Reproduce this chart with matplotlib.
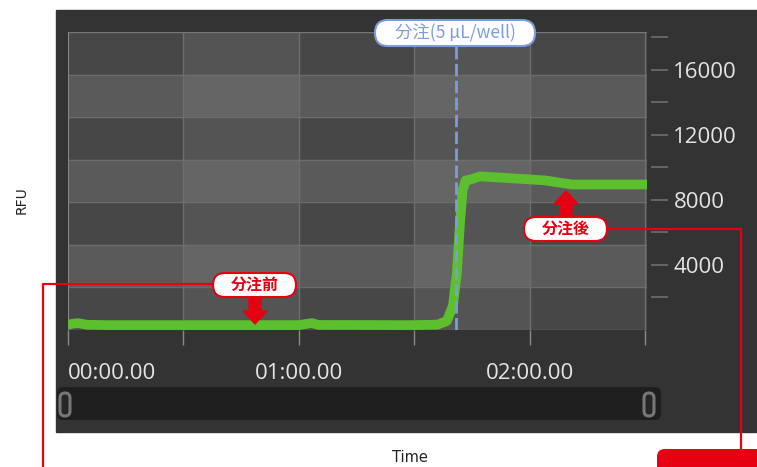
import numpy as np
import matplotlib.pyplot as plt
from matplotlib.patches import Rectangle, FancyBboxPatch, Polygon
from matplotlib.ticker import FuncFormatter

# RFU trace (time in seconds)
time_s = [0, 1, 2.6, 5, 10, 30, 60, 62, 63.4, 65, 90, 96, 98.4,
          100, 101, 101.8, 102.5, 103.3, 104.5, 107, 112, 117.4,
          124, 128, 131, 140, 151]
rfu = [300, 380, 420, 320, 300, 300, 300, 380, 420, 310, 300, 330, 550,
       1500, 3500, 6500, 8600, 9200, 9250, 9450, 9380, 9300,
       9200, 9050, 8950, 8950, 8950]

dispense_time = 100.8
dispense_label = '分注(5 µL/well)'
before_label = '分注前'
after_label = '分注後'

grid_times = [0, 30, 60, 90, 120, 150]
label_times = [0, 60, 120]
time_labels = ['00:00.00', '01:00.00', '02:00.00']
rfu_ticks = list(range(2000, 18001, 2000))

W, H = 757, 467
fig = plt.figure(figsize=(W / 100, H / 100), dpi=100)
fig.patch.set_facecolor('white')

# background layer in pixel coords
bg = fig.add_axes([0, 0, 1, 1], zorder=-1)
bg.set_xlim(0, W)
bg.set_ylim(H, 0)
bg.axis('off')
bg.add_patch(Rectangle((56, 10), W - 56, 422, color='#333333'))
bg.add_patch(FancyBboxPatch((57, 387), 604, 33, boxstyle='round,pad=0,rounding_size=6',
                            fc='#1f1f1f', ec='none'))
for hx in [60, 644]:
    bg.add_patch(FancyBboxPatch((hx, 393), 10, 23, boxstyle='round,pad=0,rounding_size=5',
                                fc='#262626', ec='#777777', lw=2.2))

# main chart
ax = fig.add_axes([68 / W, 1 - 330 / H, 579 / W, 298 / H])
ax.set_facecolor('none')
ax.set_xlim(0, 150.4)
ax.set_ylim(0, 18330)

ncol, nrow = 5, 7
for i in range(ncol):
    for j in range(nrow):
        light_row = j % 2 == 1
        light_col = i % 2 == 1
        if light_row:
            c = '#656565' if light_col else '#5a5a5a'
        else:
            c = '#545454' if light_col else '#474747'
        ax.add_patch(Rectangle((i / ncol, 1 - (j + 1) / nrow), 1 / ncol, 1 / nrow,
                               transform=ax.transAxes, color=c, zorder=0))
for j in range(nrow + 1):
    ax.plot([0, 1], [j / nrow] * 2, transform=ax.transAxes, color='#6c6c6c', lw=1, zorder=1)
ax.plot([0, 1], [1, 1], transform=ax.transAxes, color='#7a7a7a', lw=1.2, zorder=1)
for t in grid_times:
    ax.axvline(t, color='#6e6e6e', lw=1, zorder=1)
ax.axvline(0, color='#8a8a8a', lw=1.2, zorder=1)

ax.plot(time_s, rfu, color='#5cbf2d', lw=7, solid_capstyle='butt', solid_joinstyle='round', zorder=3)
ax.axvline(dispense_time, color='#7b9de0', lw=2, dashes=(4.5, 1.6), zorder=4)

for s in ax.spines.values():
    s.set_visible(False)
ax.spines['right'].set_position(('outward', 3))
ax.set_xticks(grid_times)
ax.set_xticklabels([])
ax.tick_params(axis='x', direction='out', length=11, width=1, color='#8a8a8a')
ax.yaxis.tick_right()
ax.set_yticks(rfu_ticks)
ax.yaxis.set_major_formatter(FuncFormatter(lambda v, p: f'{int(v)}' if v % 4000 == 0 else ''))
ax.tick_params(axis='y', direction='out', length=12, width=1.3, color='#6a6a6a', pad=4,
               labelsize=16, labelcolor='#e4e4e4')
for lab in ax.get_yticklabels():
    lab.set_fontfamily('Open Sans')

for t, s in zip(label_times, time_labels):
    ax.text(t, -0.145, s, transform=ax.get_xaxis_transform(), ha='left' if t == 0 else 'center',
            va='center', fontsize=16, color='#e4e4e4', family='Open Sans')

# overlay with annotations in pixel coords
ov = fig.add_axes([0, 0, 1, 1], zorder=5)
ov.set_xlim(0, W)
ov.set_ylim(H, 0)
ov.axis('off')
ov.set_facecolor('none')

jp = ['Noto Sans CJK JP', 'DejaVu Sans']
blue = '#7b9de0'
red = '#e60012'

ov.add_patch(FancyBboxPatch((375, 20), 160, 26, boxstyle='round,pad=0,rounding_size=13',
                            fc='white', ec=blue, lw=1.5))
ov.text(455, 33, dispense_label, ha='center', va='center', fontsize=12.5, color=blue, family=jp)

# before
ov.plot([213, 43, 43], [284, 284, H + 5], color=red, lw=1.6)
ov.add_patch(FancyBboxPatch((213, 273), 83, 24, boxstyle='round,pad=0,rounding_size=12',
                            fc='white', ec=red, lw=1.5))
ov.text(254.5, 285, before_label, ha='center', va='center', fontsize=11.5, color=red,
        family=jp, fontweight='bold')
ov.add_patch(Polygon([(249, 297), (261, 297), (261, 311), (267, 311), (255, 324),
                      (243, 311), (249, 311)], closed=True, color=red))

# after
ov.plot([607, 741, 741], [229, 229, 449], color=red, lw=1.6)
ov.add_patch(FancyBboxPatch((524, 217), 83, 24, boxstyle='round,pad=0,rounding_size=12',
                            fc='white', ec=red, lw=1.5))
ov.text(565.5, 229, after_label, ha='center', va='center', fontsize=11.5, color=red,
        family=jp, fontweight='bold')
ov.add_patch(Polygon([(560, 217), (572, 217), (572, 204), (578, 204), (566, 191),
                      (554, 204), (560, 204)], closed=True, color=red))

ov.add_patch(FancyBboxPatch((657, 449), 120, 40, boxstyle='round,pad=0,rounding_size=8',
                            fc=red, ec='none'))

fig.text(22 / W, 1 - 200 / H, 'RFU', rotation=90, ha='center', va='center',
         fontsize=10, color='#222222')
fig.text(410 / W, 1 - 458 / H, 'Time', ha='center', va='center', fontsize=10.5, color='#222222')

fig.savefig('out.png', dpi=100)
